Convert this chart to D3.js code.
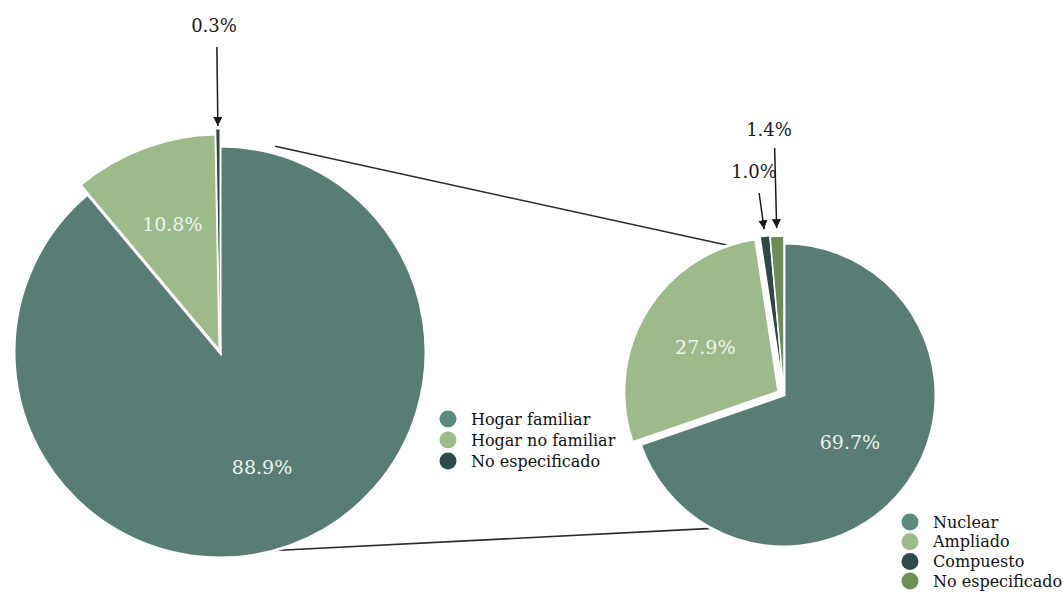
<!DOCTYPE html>
<html><head><meta charset="utf-8">
<script src="https://cdn.jsdelivr.net/npm/d3@7"></script>
<style>html,body{margin:0;padding:0;background:#fff;}svg{display:block;}</style>
</head><body>
<svg id="chart" width="1063" height="592"></svg>
<script>
// ---- data ----
const leftCategories = ["Hogar familiar", "Hogar no familiar", "No especificado"];
const leftValues = [88.9, 10.8, 0.3];
const leftLabels = ["88.9%", "10.8%", "0.3%"];
const rightCategories = ["Nuclear", "Ampliado", "Compuesto", "No especificado"];
const rightValues = [69.7, 27.9, 1.0, 1.4];
const rightLabels = ["69.7%", "27.9%", "1.0%", "1.4%"];

// ---- styles ----
const leftColors = ["#577d74", "#9cba8a", "#2d4a48"];
const leftLegendColors = ["#5b8a80", "#9dbb8b", "#2e4b49"];
const rightColors = ["#577d74", "#9cba8a", "#2d4a48", "#6d8c56"];
const rightLegendColors = ["#5b8a80", "#9dbb8b", "#2e4b49", "#6f8f58"];
const FONT = "'DejaVu Serif', Georgia, serif";

const svg = d3.select("#chart");
const defs = svg.append("defs");
defs.append("marker").attr("id", "arr").attr("viewBox", "0 0 10 10")
  .attr("refX", 10).attr("refY", 5).attr("markerWidth", 9).attr("markerHeight", 9)
  .attr("markerUnits", "userSpaceOnUse").attr("orient", "auto")
  .append("path").attr("d", "M0,0 L10,5 L0,10 Z").attr("fill", "#1a1a1a");

const pie = d3.pie().sort(null).value(d => d);
const polar = (cx, cy, r, a) => [cx + r * Math.sin(a), cy - r * Math.cos(a)];

// ---- geometry ----
const L = {cx: 220, cy: 352, r: 206, extraR: [0, 12, 16], offset: [0, 0, 1], stroke: [3, 3, 1], labelR: [123, 136, 0]};
const R = {cx: 784, cy: 395, r: 152, extraR: [0, 3, 6, 6], offset: [0, 6, 2, 1], stroke: [3, 3, 1.5, 1.5], labelR: [81, 92, 0, 0]};

function drawPie(cfg, values, colors, labels, innerLabelIdx) {
  const arcs = pie(values);
  const g = svg.append("g").attr("transform", `translate(${cfg.cx},${cfg.cy})`);
  arcs.forEach((a, i) => {
    const mid = (a.startAngle + a.endAngle) / 2;
    const off = cfg.offset[i];
    const arc = d3.arc().innerRadius(0).outerRadius(cfg.r + cfg.extraR[i]);
    g.append("path").attr("d", arc(a))
      .attr("transform", `translate(${off * Math.sin(mid)},${-off * Math.cos(mid)})`)
      .attr("fill", colors[i]).attr("stroke", "#fff").attr("stroke-width", cfg.stroke[i])
      .attr("stroke-linejoin", "miter");
  });
  innerLabelIdx.forEach(i => {
    const a = arcs[i];
    const mid = (a.startAngle + a.endAngle) / 2;
    const [x, y] = polar(0, 0, cfg.labelR[i], mid);
    g.append("text").attr("x", x).attr("y", y).attr("dy", "0.35em")
      .attr("text-anchor", "middle").attr("font-family", FONT).attr("font-size", 19)
      .attr("fill", "#eef2ec").text(labels[i]);
  });
  return arcs;
}

// connector lines (drawn first so pies sit on top)
const connectors = svg.append("g");
const lArcs = pie(leftValues), rArcs = pie(rightValues);
const deg = Math.PI / 180;
const up1 = polar(L.cx, L.cy, L.r + 7, 15 * deg), up2 = polar(R.cx, R.cy, R.r + 8, -20.7 * deg);
const lo1 = polar(L.cx, L.cy, L.r, 164.5 * deg), lo2 = polar(R.cx, R.cy, R.r - 3, 206.7 * deg);
[[up1, up2], [lo1, lo2]].forEach(([p, q]) => {
  connectors.append("line").attr("x1", p[0]).attr("y1", p[1]).attr("x2", q[0]).attr("y2", q[1])
    .attr("stroke", "#2a2a2a").attr("stroke-width", 1.6);
});

drawPie(L, leftValues, leftColors, leftLabels, [0, 1]);
drawPie(R, rightValues, rightColors, rightLabels, [0, 1]);

// external labels with arrows
function callout(text, tx, ty, x1, y1, x2, y2) {
  svg.append("text").attr("x", tx).attr("y", ty).attr("dy", "0.35em").attr("text-anchor", "middle")
    .attr("font-family", FONT).attr("font-size", 18).attr("fill", "#1a1a1a").text(text);
  svg.append("line").attr("x1", x1).attr("y1", y1).attr("x2", x2).attr("y2", y2)
    .attr("stroke", "#1a1a1a").attr("stroke-width", 1.5).attr("marker-end", "url(#arr)");
}
{
  const a = lArcs[2]; const mid = (a.startAngle + a.endAngle) / 2;
  const tip = polar(L.cx, L.cy, L.r + L.extraR[2] + 4, mid);
  callout(leftLabels[2], 214, 26, tip[0] - 1, 47, tip[0], tip[1]);
}
{
  const a = rArcs[2]; const mid = (a.startAngle + a.endAngle) / 2;
  const tip = polar(R.cx, R.cy, R.r + R.extraR[2] + 9, mid);
  callout(rightLabels[2], 754, 172, tip[0] - 5, 193, tip[0], tip[1]);
}
{
  const a = rArcs[3]; const mid = (a.startAngle + a.endAngle) / 2;
  const tip = polar(R.cx, R.cy, R.r + R.extraR[3] + 9, mid);
  callout(rightLabels[3], 769, 130, tip[0] - 2, 148, tip[0], tip[1]);
}

// legends
function legend(x, y, step, cats, colors) {
  const g = svg.append("g").attr("transform", `translate(${x},${y})`);
  cats.forEach((c, i) => {
    g.append("circle").attr("cx", 0).attr("cy", i * step).attr("r", 8.5).attr("fill", colors[i]);
    g.append("text").attr("x", 23).attr("y", i * step).attr("dy", "0.35em")
      .attr("font-family", FONT).attr("font-size", 16).attr("fill", "#111").text(c);
  });
}
legend(448, 419, 21, leftCategories, leftLegendColors);
legend(910, 522, 19.7, rightCategories, rightLegendColors);
</script>
</body></html>
